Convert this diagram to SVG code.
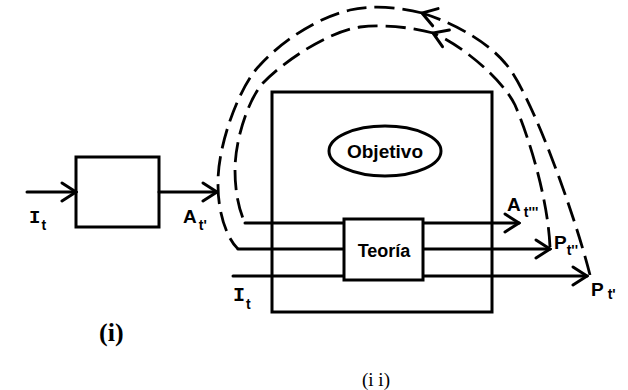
<svg xmlns="http://www.w3.org/2000/svg" width="628" height="390" viewBox="0 0 628 390">
<style>
.ln{fill:none;stroke:#000;stroke-width:3;stroke-linecap:round}
.box{fill:#fff;stroke:#000;stroke-width:3}
.dash{fill:none;stroke:#000;stroke-width:2.8;stroke-dasharray:20 8;stroke-linecap:butt}
.lbl{font-family:"Liberation Sans",Arial,sans-serif;font-weight:bold;fill:#000}
.sub{font-size:14px}
.cap{font-family:"Liberation Serif","Times New Roman",serif;fill:#000}
</style>
<defs>
<marker id="arr" viewBox="-16 -11 18 22" refX="0" refY="0" markerWidth="18" markerHeight="22" markerUnits="userSpaceOnUse" orient="auto">
<path d="M-14,-9 L0,0 L-14,9" fill="none" stroke="#000" stroke-width="3" stroke-dasharray="none" stroke-linecap="round" stroke-linejoin="miter"/>
</marker>
</defs>
<g id="box-i"><rect class="box" x="76" y="157" width="83" height="70"/></g>
<g id="box-ii"><rect class="box" x="272" y="92" width="220" height="220"/></g>
<g id="objetivo"><ellipse cx="385" cy="151" rx="56" ry="25" fill="none" stroke="#000" stroke-width="3"/>
<text class="lbl" x="385" y="158" font-size="19" text-anchor="middle">Objetivo</text></g>
<g id="connectors">
<line class="ln" x1="27" y1="192" x2="76" y2="192" marker-end="url(#arr)"/>
<line class="ln" x1="159" y1="192" x2="217" y2="192" marker-end="url(#arr)"/>
<line class="ln" x1="245" y1="223" x2="344" y2="223"/>
<line class="ln" x1="238" y1="249" x2="344" y2="249"/>
<line class="ln" x1="233" y1="276" x2="344" y2="276"/>
<line class="ln" x1="423" y1="223" x2="519" y2="223" marker-end="url(#arr)"/>
<line class="ln" x1="423" y1="249" x2="550" y2="249" marker-end="url(#arr)"/>
<line class="ln" x1="423" y1="276" x2="587" y2="276" marker-end="url(#arr)"/>
<path class="dash" d="M590,275 C575,215 530,90 505,63 C490,45 460,25 422,13" marker-end="url(#arr)"/>
<path class="dash" d="M422,13 C400,7 370,5 350,10 C320,17 285,38 260,65 C240,85 217,145 218,185 C218,215 228,240 238,249"/>
<path class="dash" d="M550,247 C548,200 530,140 515,105 C503,80 462,45 433,33" marker-end="url(#arr)"/>
<path class="dash" d="M433,33 C415,28 385,24 360,27 C330,31 285,60 263,83 C248,100 235,140 235,170 C235,195 240,212 245,223"/>
</g>
<g id="teoria"><rect class="box" x="344" y="219" width="79" height="61"/>
<text class="lbl" x="384" y="257" font-size="18" text-anchor="middle">Teoría</text></g>
<g id="labels">
<text class="lbl" x="29" y="223" font-size="19"><tspan font-family="Liberation Mono">I</tspan><tspan class="sub" dx="1" dy="7">t</tspan></text>
<text class="lbl" x="183" y="223" font-size="19">A<tspan class="sub" dx="2" dy="7">t'</tspan></text>
<text class="lbl" x="233" y="301" font-size="20"><tspan font-family="Liberation Mono">I</tspan><tspan class="sub" dx="1" dy="8">t</tspan></text>
<text class="lbl" x="507" y="211" font-size="19">A<tspan class="sub" dx="3" dy="6">t'''</tspan></text>
<text class="lbl" x="554" y="249" font-size="19">P<tspan class="sub" dx="0" dy="6">t''</tspan></text>
<text class="lbl" x="591" y="296" font-size="19">P<tspan class="sub" dx="4" dy="3">t'</tspan></text>
<text class="cap" x="99" y="341" font-size="26" font-weight="bold">(i)</text>
<text class="cap" x="362" y="386" font-size="19">(i i)</text>
</g>
</svg>
